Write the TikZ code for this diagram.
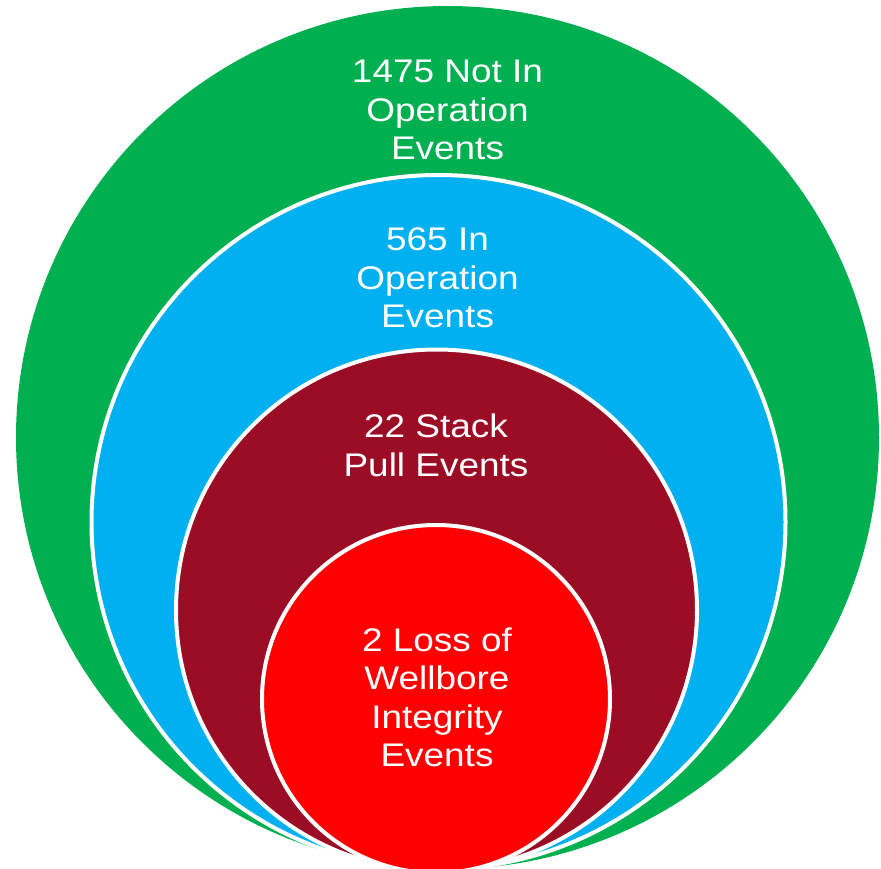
\documentclass[tikz,border=0pt]{standalone}
\usepackage{fontspec}
\setmainfont{Liberation Sans}[FakeStretch=1.13]
\usepackage{xcolor}
\usetikzlibrary{shapes}

\definecolor{evgreen}{RGB}{0,176,80}
\definecolor{evblue}{RGB}{0,176,240}
\definecolor{evmaroon}{RGB}{154,13,36}
\definecolor{evred}{RGB}{255,0,0}

\begin{document}
\begin{tikzpicture}[x=1pt, y=-1pt,
    ring/.style={circle, inner sep=0pt, draw=white, line width=4pt},
    evtext/.style={white, align=center, font=\fontsize{32.7}{38.5}\selectfont}]
            \clip (0,0) rectangle (881,869);

            % nested event circles, all touching at the bottom
            \node[circle, inner sep=0pt, fill=evgreen, minimum size=863pt] (notinop) at (447.5,437.5) {};
            \node[ring, fill=evblue, minimum size=694pt] (inop) at (438.5,522) {};
            \node[ring, fill=evmaroon, minimum size=521pt] (stackpull) at (436.5,610) {};
            \node[ring, fill=evred, minimum size=348pt] (lossint) at (436,699) {};

            \node[evtext] (notinoptext) at (447.5,110) {1475 Not In\\Operation\\Events};
            \node[evtext] (inoptext) at (437.5,278) {565 In\\Operation\\Events};
            \node[evtext] (stackpulltext) at (436,445.5) {22 Stack\\Pull Events};
            \node[evtext] (lossinttext) at (437,697.5) {2 Loss of\\Wellbore\\Integrity\\Events};
            \end{tikzpicture}
\end{document}
